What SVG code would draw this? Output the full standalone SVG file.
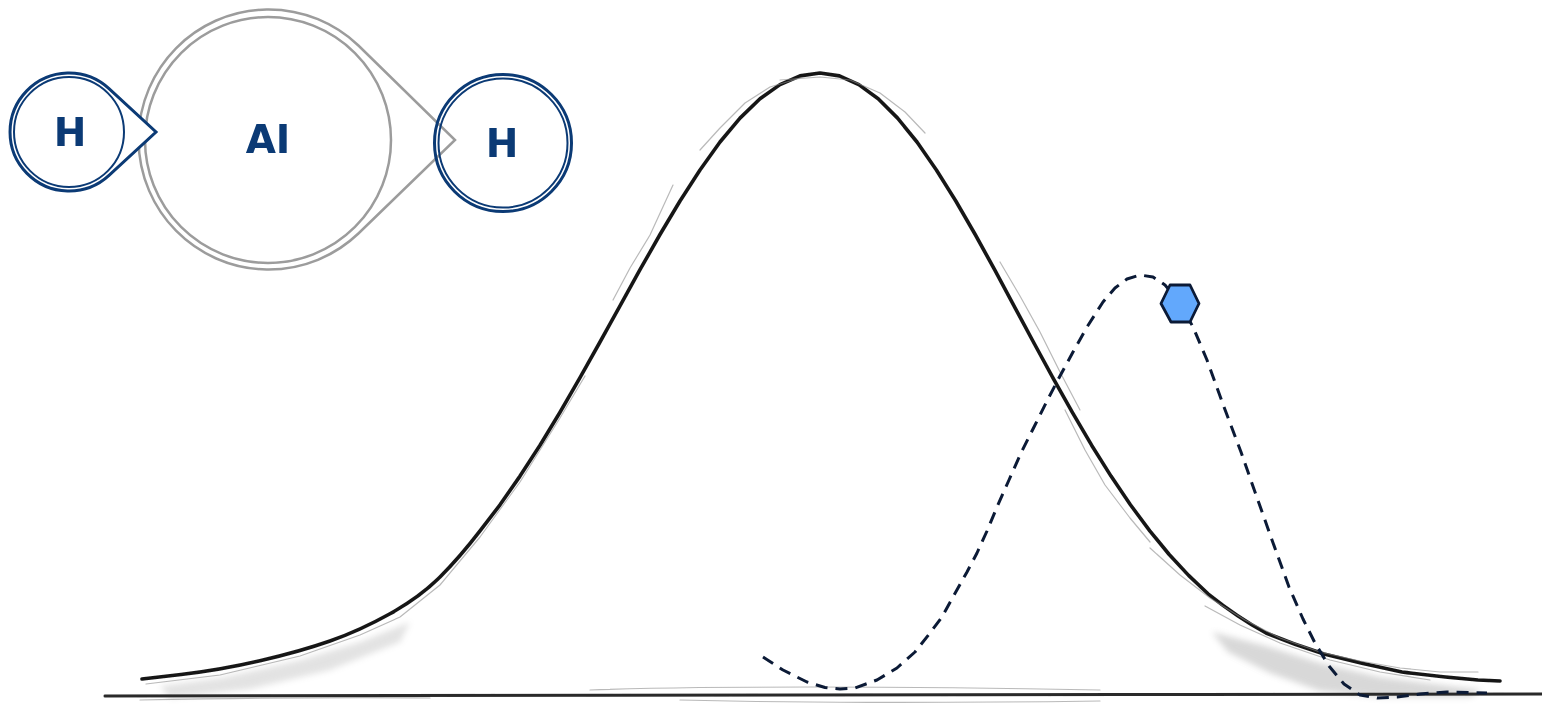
<svg xmlns="http://www.w3.org/2000/svg" width="1542" height="708" viewBox="0 0 1542 708">
  <defs>
    <filter id="soft" x="-5%" y="-5%" width="110%" height="110%">
      <feGaussianBlur stdDeviation="0.6"/>
    </filter>
    <filter id="haze" x="-10%" y="-50%" width="120%" height="200%">
      <feGaussianBlur stdDeviation="3"/>
    </filter>
  </defs>
  <style>
    .pencil { fill: none; stroke: #181818; stroke-width: 3.6; stroke-linecap: round; stroke-linejoin: round; }
    .pencil-light { fill: none; stroke: #8a8a8a; stroke-width: 1.2; stroke-linecap: round; stroke-linejoin: round; opacity: 0.6; }
    .base { fill: none; stroke: #2a2a2a; stroke-width: 3; stroke-linecap: round; }
    .hnode-outer { fill: #ffffff; stroke: #0b3a75; stroke-width: 3; stroke-linejoin: miter; }
    .hnode-inner { fill: none; stroke: #0b3a75; stroke-width: 2; }
    .ai-line { fill: #ffffff; stroke: #9c9c9c; stroke-width: 2.5; stroke-linejoin: miter; }
    .ai-inner { fill: none; stroke: #9c9c9c; stroke-width: 2.5; }
    .lbl { font-family: "DejaVu Sans", "Liberation Sans", sans-serif; font-weight: bold; font-size: 39px; fill: #0b3a75; text-anchor: middle; }
    .dash { fill: none; stroke: #0b1a36; stroke-width: 3; stroke-dasharray: 12 8; stroke-linecap: butt; stroke-linejoin: round; }
    .hex { fill: #62a8fc; stroke: #0b1a36; stroke-width: 2.8; stroke-linejoin: round; }
  </style>

  <!-- sketch background: baseline, bell curve, shading -->
  <g id="sketch">
    <path d="M160,686 L220,678 L300,660 L360,642 L410,622 L400,642 L330,670 L250,689 L170,698 Z" fill="#808080" opacity="0.22" filter="url(#haze)"/>
    <path d="M1212,632 L1266,646 L1320,663 L1380,677 L1450,686 L1482,690 L1470,697 L1380,697 L1320,691 L1270,673 L1228,652 Z" fill="#808080" opacity="0.3" filter="url(#haze)"/>

    <g filter="url(#soft)">
      <path class="base" d="M105,696 L400,695.5 L800,695 L1200,694.5 L1542,694"/>
      <path class="pencil-light" d="M590,690 C700,686 900,686 1100,690"/>
      <path class="pencil-light" d="M140,700 C250,698 350,697 430,698"/>
      <path class="pencil-light" d="M680,700 C800,703 950,703 1100,701"/>

      <path class="pencil" d="M142,679 L181,674.5 Q220,670 260,660.75 Q300,651.5 330,641 Q360,630.5 390,613.75 Q420,597 440,577 Q460,557 480,530.9 L500,504.8 L520,476.1 L540,445.2 L560,412.2 L580,377.6 L600,342 L620,305.8 L640,269.7 L660,234.5 L680,201 L700,170 L720,142 L740,118.1 L760,98.8 L780,84.6 L800,75.9 L820,73 L839.4,75.9 L858.8,84.6 L878.2,98.8 L897.6,118.1 L917,142 L936.4,170 L955.8,201 L975.2,234.5 L994.6,269.7 L1014,305.8 L1033.4,342 L1052.8,377.6 L1072.2,412.2 L1091.6,445.2 L1111,476.1 L1130.4,504.8 L1149.8,530.9 L1169.2,554.5 L1188.6,575.4 L1208,593.8 Q1237,617 1266,633 Q1295,645 1324,654 Q1363,664 1402,672 Q1441,677 1478,680 L1500,681"/>

      <!-- secondary sketch strokes -->
      <path class="pencil-light" d="M146,684 L220,675 L300,656 L360,635 L400,617 L440,585 L480,537 L520,482 L560,418 L585,376"/>
      <path class="pencil-light" d="M613,300 L630,268 L650,235 L673,185"/>
      <path class="pencil-light" d="M700,150 L720,128 L745,103 L770,87 L800,78"/>
      <path class="pencil-light" d="M780,80 L820,77 L850,80 L880,93 L905,112 L925,133"/>
      <path class="pencil-light" d="M1000,262 L1020,296 L1040,332 L1060,372 L1080,410"/>
      <path class="pencil-light" d="M1065,410 L1085,450 L1105,485 L1130,518 L1150,542"/>
      <path class="pencil-light" d="M1150,548 L1180,575 L1210,598 L1245,620 L1280,638 L1320,652 L1360,661 L1400,668 L1440,672 L1478,672"/>
      <path class="pencil-light" d="M1205,606 L1240,625 L1280,643 L1330,660 L1380,672 L1430,680"/>
    </g>
  </g>

  <!-- connector: dashed curve -->
  <g id="connectors">
    <path class="dash" d="M763,657 L783,670 L807,682 L825,687.5 L840,689 L855,688 L877,680 L897,668 L915,652 L930,633 L942,617 L953,597 L967,572 L977,553 L987,531 L997,507 L1009,480 L1021,453 L1034,427 L1047,401 L1060,376 L1073,352 L1087,327 L1103,302 L1115,288 L1127,279 L1140,275 L1153,277 L1165,285 L1180,303 L1193,327 L1207,360 L1224,407 L1241,452 L1255,492 L1272,540 L1289,587 L1303,619 L1315,643 L1329,666 L1344,684 L1360,695 L1377,698 L1397,697 L1420,694 L1447,692 L1487,693"/>
  </g>

  <!-- AI node -->
  <g id="node-ai">
    <path class="ai-line" d="M358.4,45.5 L455,140 L358.4,233.5 A130,130 0 1 1 358.4,45.5 Z"/>
    <circle class="ai-inner" cx="268" cy="140" r="123"/>
    <text class="lbl" x="268" y="153">AI</text>
  </g>

  <!-- left H node -->
  <g id="node-h-left">
    <path class="hnode-outer" d="M109,88.6 L156,132 L109,175.4 A59,59 0 1 1 109,88.6 Z"/>
    <circle class="hnode-inner" cx="69" cy="132" r="55"/>
    <text class="lbl" x="70" y="146">H</text>
  </g>

  <!-- right H node -->
  <g id="node-h-right">
    <circle cx="503" cy="143" r="68.5" fill="none" stroke="#0b3a75" stroke-width="3"/>
    <circle class="hnode-inner" cx="503" cy="143" r="64.5"/>
    <text class="lbl" x="502" y="157">H</text>
  </g>

  <!-- hexagon marker -->
  <g id="node-hex">
    <polygon class="hex" points="1170,285 1190,285 1199,303.5 1190,322 1171,322 1161,303.5"/>
  </g>
</svg>
